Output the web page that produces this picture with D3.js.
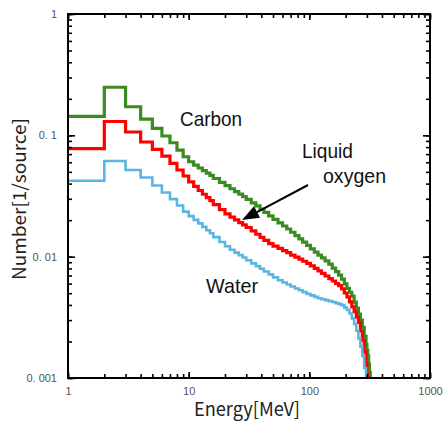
<!DOCTYPE html>
<html>
<head>
<meta charset="utf-8">
<script src="https://cdn.jsdelivr.net/npm/d3@7"></script>
<style>
  body { margin: 0; background: #fff; }
</style>
</head>
<body>
<div id="maindiv"></div>
<script>
// bin edges in MeV (histogram)
var edges = [1,2,3,4,5,6,7,8,9,10,11,12,13,14,15,16,18,20,22,24,26,28,30,33,36,39,42,46,50,55,60,65,70,76,82,88,95,102,110,118,126,135,145,155,165,175,185,195,205,215,225,235,245,255,265,275,285,295,300,305,310,315,320,325,330];

var carbon = [0.1435,0.249,0.172,0.136,0.114,0.0987,0.0869,0.0756,0.0666,
  0.0606,0.0569,0.0538,0.0511,0.0488,0.0467,0.0441,0.0410,
  0.0385,0.0363,0.0344,0.0328,0.0313,0.0297,0.0278,0.0262,0.0247,0.0232,0.0217,
  0.0203,0.0190,0.0179,0.0169,0.0159,0.0149,0.0140,0.0132,0.0124,
  0.0116,0.0109,0.0103,0.00978,0.00922,
  0.00867,0.00806,0.00752,0.00705,0.00653,0.00597,0.00548,0.00509,0.00473,0.00422,0.00376,0.00336,0.00300,0.00261,0.00220,
  0.00189,0.00169,0.00152,0.00130,0.00111,0.0008,0.0004];

var oxygen = [0.0776,0.130,0.1065,0.0881,0.0767,0.0675,0.0588,0.0518,0.0462,
  0.0414,0.0380,0.0351,0.0327,0.0307,0.0290,0.0268,0.0244,
  0.0225,0.0212,0.0201,0.0191,0.0183,0.0174,0.0163,0.0153,0.0144,0.0136,0.0128,
  0.0122,0.0117,0.0112,0.0108,0.0103,0.00991,0.00953,0.00917,0.00881,
  0.00841,0.00800,0.00763,0.00728,0.00693,
  0.00660,0.00630,0.00601,0.00577,0.00543,0.00502,0.00467,0.00424,0.00386,0.00352,0.00317,0.00287,0.00244,0.00205,0.00164,
  0.00130,0.00107,0.0007,0.0004,0.0002,0.0001,0.0001];

var water = [0.0422,0.0614,0.0518,0.0449,0.0386,0.0338,0.0298,0.0264,0.0235,
  0.0216,0.0201,0.0188,0.0176,0.0165,0.0156,0.0145,0.0132,
  0.0122,0.0114,0.0108,0.0103,0.00983,0.00933,0.00881,0.00836,0.00796,0.00755,0.00715,
  0.00675,0.00639,0.00613,0.00590,0.00567,0.00547,0.00528,0.00510,0.00494,
  0.00480,0.00466,0.00454,0.00446,0.00438,
  0.00430,0.00423,0.00414,0.00406,0.00399,0.00380,0.00363,0.00341,0.00310,0.00279,0.00245,0.00212,0.00181,0.00151,0.00121,
  0.0008,0.0005,0.0002,0.0001,0.0001,0.0001,0.0001];

var xTickValues = [1, 10, 100, 1000];
var xTickLabels = ["1", "10", "100", "1000"];
var yTickValues = [0.001, 0.01, 0.1, 1];
var yTickLabels = ["0. 001", "0. 01", "0. 1", "1"];

var width = 443;
var height = 421;
var margin = { top: 14, bottom: 43, left: 68, right: 13 };

var svg = d3.select("#maindiv")
    .append("svg")
    .attr("width", width)
    .attr("height", height);

var x = d3.scaleLog()
    .domain([1, 1000])
    .range([margin.left, width - margin.right]);

var y = d3.scaleLog()
    .domain([0.001, 1])
    .range([height - margin.bottom, margin.top]);

svg.append("clipPath").attr("id", "plotclip")
    .append("rect")
    .attr("x", x(1)).attr("y", y(1))
    .attr("width", x(1000) - x(1))
    .attr("height", y(0.001) - y(1));

// step path from the bins
function steps(vals) {
    var pts = [];
    for (var i = 0; i < vals.length; i++) {
        pts.push([edges[i], vals[i]]);
        pts.push([edges[i + 1], vals[i]]);
    }
    return pts;
}

var line = d3.line()
    .x(d => x(d[0]))
    .y(d => y(d[1]));

var series = [
    { name: "carbon", vals: carbon, color: "#3a8c22", w: 3.2 },
    { name: "oxygen", vals: oxygen, color: "#ff0000", w: 3.2 },
    { name: "water", vals: water, color: "#5cb4e2", w: 2.6 }
];

svg.append("g")
    .attr("clip-path", "url(#plotclip)")
    .selectAll("path")
    .data(series)
    .enter()
    .append("path")
    .attr("d", d => line(steps(d.vals)))
    .attr("fill", "none")
    .attr("stroke", d => d.color)
    .attr("stroke-width", d => d.w)
    .attr("stroke-linejoin", "miter");

//---------axes, ticks inside on all four sides-----------
var minorX = x.ticks();
var minorY = y.ticks();

function styleAxis(g) {
    g.select(".domain").remove();
    g.selectAll(".tick line").attr("stroke", "#000").attr("stroke-width", 1.6);
}

svg.append("g").attr("transform", `translate(0,${y(0.001)})`)
    .call(d3.axisBottom(x).tickValues(minorX).tickSize(-4).tickFormat(""))
    .call(styleAxis);
svg.append("g").attr("transform", `translate(0,${y(0.001)})`)
    .call(d3.axisBottom(x).tickValues(xTickValues).tickSize(-6).tickPadding(9)
        .tickFormat((d, i) => xTickLabels[i]))
    .call(styleAxis)
    .call(g => g.selectAll("text").attr("fill", "#555")
        .attr("font-family", "Liberation Sans, Arial, sans-serif").attr("font-size", "11px"));

svg.append("g").attr("transform", `translate(0,${y(1)})`)
    .call(d3.axisTop(x).tickValues(minorX).tickSize(-4).tickFormat(""))
    .call(styleAxis);
svg.append("g").attr("transform", `translate(0,${y(1)})`)
    .call(d3.axisTop(x).tickValues(xTickValues).tickSize(-6).tickFormat(""))
    .call(styleAxis);

svg.append("g").attr("transform", `translate(${x(1)},0)`)
    .call(d3.axisLeft(y).tickValues(minorY).tickSize(-4).tickFormat(""))
    .call(styleAxis);
svg.append("g").attr("transform", `translate(${x(1)},0)`)
    .call(d3.axisLeft(y).tickValues(yTickValues).tickSize(-7).tickPadding(11)
        .tickFormat((d, i) => yTickLabels[i]))
    .call(styleAxis)
    .call(g => g.selectAll("text").attr("fill", "#555")
        .attr("font-family", "Liberation Sans, Arial, sans-serif").attr("font-size", "11px"));

svg.append("g").attr("transform", `translate(${x(1000)},0)`)
    .call(d3.axisRight(y).tickValues(minorY).tickSize(-4).tickFormat(""))
    .call(styleAxis);
svg.append("g").attr("transform", `translate(${x(1000)},0)`)
    .call(d3.axisRight(y).tickValues(yTickValues).tickSize(-7).tickFormat(""))
    .call(styleAxis);

// frame
svg.append("rect")
    .attr("x", x(1)).attr("y", y(1))
    .attr("width", x(1000) - x(1))
    .attr("height", y(0.001) - y(1))
    .attr("fill", "none")
    .attr("stroke", "#000")
    .attr("stroke-width", 2);

// axis titles
svg.append("text")
    .attr("x", 247).attr("y", 416)
    .attr("text-anchor", "middle")
    .attr("font-family", "Noto Sans CJK JP, sans-serif")
    .attr("font-size", "19px")
    .attr("textLength", 106)
    .attr("lengthAdjust", "spacingAndGlyphs")
    .attr("fill", "#222")
    .text("Energy[MeV]");

svg.append("text")
    .attr("transform", "translate(26,199) rotate(-90)")
    .attr("text-anchor", "middle")
    .attr("font-family", "Noto Sans CJK JP, sans-serif")
    .attr("font-size", "18px")
    .attr("textLength", 162)
    .attr("lengthAdjust", "spacingAndGlyphs")
    .attr("fill", "#222")
    .text("Number[1/source]");

//---------labels and arrow-----------
var labels = [
    { t: "Carbon", x: 180, y: 126, len: 62 },
    { t: "Liquid", x: 302, y: 158, len: 51 },
    { t: "oxygen", x: 323, y: 183, len: 63 },
    { t: "Water", x: 206, y: 293, len: 52 }
];
svg.selectAll(".lab")
    .data(labels)
    .enter()
    .append("text")
    .attr("class", "lab")
    .attr("x", d => d.x).attr("y", d => d.y)
    .attr("font-family", "Liberation Sans, Arial, sans-serif")
    .attr("font-size", "21px")
    .attr("textLength", d => d.len)
    .attr("lengthAdjust", "spacingAndGlyphs")
    .attr("fill", "#111")
    .text(d => d.t);

var ax0 = 308, ay0 = 185, ax1 = 242, ay1 = 220;
var ang = Math.atan2(ay1 - ay0, ax1 - ax0);
var hl = 17, hw = 6.5;
var bx = ax1 - hl * Math.cos(ang), by = ay1 - hl * Math.sin(ang);
svg.append("line")
    .attr("x1", ax0).attr("y1", ay0).attr("x2", bx).attr("y2", by)
    .attr("stroke", "#000").attr("stroke-width", 2);
svg.append("path")
    .attr("d", "M" + ax1 + "," + ay1 +
        "L" + (bx + hw * Math.sin(ang)) + "," + (by - hw * Math.cos(ang)) +
        "L" + (bx - hw * Math.sin(ang)) + "," + (by + hw * Math.cos(ang)) + "Z")
    .attr("fill", "#000");
</script>
</body>
</html>
